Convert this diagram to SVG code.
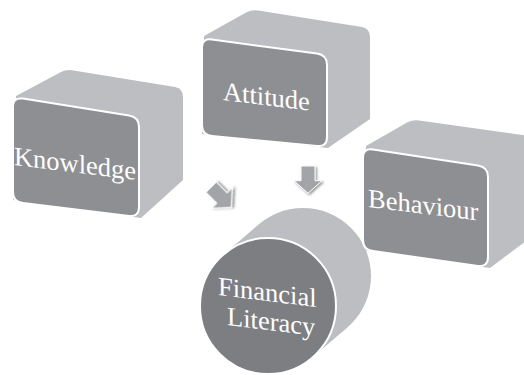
<svg xmlns="http://www.w3.org/2000/svg" width="524" height="375" viewBox="0 0 524 375">
  <defs>
    <style>
      .side { fill: #bdbec1; }
      .face { fill: #8e8f93; stroke: #ffffff; stroke-width: 2; }
      .disc { fill: #7d7e82; stroke: #ffffff; stroke-width: 2; }
      .label { font-family: "Liberation Serif", "Times New Roman", serif; font-size: 26.5px; fill: #ffffff; }
      .arrow { fill: #a3a4a7; stroke: #ffffff; stroke-width: 1; filter: url(#shade); }
    </style>
    <filter id="shade" x="-30%" y="-30%" width="160%" height="160%">
      <feDropShadow dx="1.5" dy="1.5" stdDeviation="1.2" flood-color="#555" flood-opacity="0.6"/>
    </filter>
    <path id="arrowShape" d="M-7,-14.7 L7,-14.7 L7,0 L14,0 L0,12.6 L-14,0 L-7,0 Z"/>
  </defs>

  <!-- Knowledge block -->
  <g id="knowledge">
    <path class="side" d="M16,96 L61,72 Q66,69.5 72,70.3 L175,87 Q183,88.5 183,97 L183,180 L141,218 L13,200 Z"/>
    <path class="face" d="M13,107 Q13,97 23,98.6 L129,115.4 Q139,117 139,127 L139,207 Q139,217 129,216 L23,203 Q13,202 13,192 Z"/>
    <text class="label" transform="translate(14,165) skewY(7)">Knowledge</text>
  </g>

  <!-- Attitude block -->
  <g id="attitude">
    <path class="side" d="M204,36 L247,12 Q252,9.5 258,10.5 L362,27 Q370,28.5 370,37 L370,119 L328,148 L202,134 Z"/>
    <path class="face" d="M202,48 Q202,38 212,39.5 L317,53.6 Q327,55 327,65 L327,137 Q327,147 317,146 L212,136 Q202,135 202,125 Z"/>
    <text class="label" transform="translate(223,100) skewY(7)">Attitude</text>
  </g>

  <!-- Financial Literacy cylinder -->
  <g id="financial-literacy">
    <circle class="side" cx="303" cy="276" r="68"/>
    <polygon class="side" points="312.3,357.6 223.7,254.4 258.7,224.4 347.3,327.6"/>
    <circle class="disc" cx="268" cy="306" r="68"/>
    <text class="label" transform="translate(218,295) skewY(7)">Financial</text>
    <text class="label" transform="translate(227,325) skewY(7)">Literacy</text>
  </g>

  <!-- Behaviour block -->
  <g id="behaviour">
    <path class="side" d="M366,146 L408,122 Q413,119.5 419,120.5 L530,136 L530,238 L490,268 L363,250 Z"/>
    <path class="face" d="M363,158 Q363,148 373,149.5 L478,165.5 Q488,167 488,177 L488,257 Q488,267 478,266 L373,251 Q363,250 363,240 Z"/>
    <text class="label" transform="translate(368,207) skewY(7)">Behaviour</text>
  </g>

  <!-- Arrows into the cylinder -->
  <g id="connectors">
    <use href="#arrowShape" class="arrow" transform="translate(222,198) rotate(-45) scale(1.05)"/>
    <use href="#arrowShape" class="arrow" transform="translate(308,180.7)"/>
  </g>
</svg>
